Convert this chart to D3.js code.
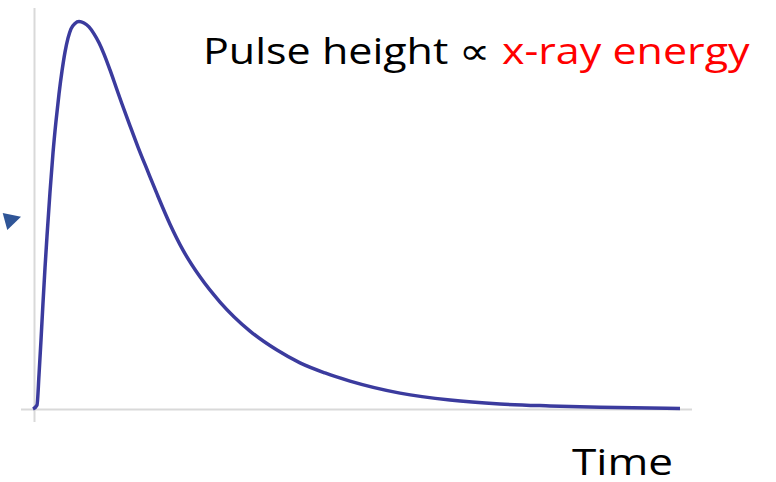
<!DOCTYPE html>
<html>
<head>
<meta charset="utf-8">
<script src="https://cdn.jsdelivr.net/npm/d3@7"></script>
<style>
  html, body { margin: 0; padding: 0; background: #fff; }
  svg { display: block; }
</style>
</head>
<body>
<svg id="chart" width="776" height="482"></svg>
<script>
// ---- data (time in arbitrary units, amplitude in % of peak) ----
const time      = [-3, 1, 3, 5, 7, 9, 11, 14, 17, 20, 23, 26, 29, 32, 35, 39, 43, 48, 53, 58, 63, 68, 74, 80, 86, 93, 102, 112, 121, 134, 147, 164, 184, 214, 241, 264, 289, 314, 364, 414, 464, 514, 564, 644];
const amplitude = [0, 1.0, 8.8, 17.8, 27.4, 36.4, 44.6, 56.0, 66.1, 74.3, 81.3, 87.2, 92.1, 95.7, 98.1, 99.5, 100, 99.6, 98.6, 96.8, 94.5, 91.6, 87.5, 83.1, 78.7, 73.8, 67.6, 61.2, 55.5, 47.7, 41.0, 34.1, 27.6, 20.1, 15.2, 11.9, 9.3, 7.2, 4.1, 2.3, 1.3, 0.8, 0.44, 0.13];
const titleParts = ["Pulse height \u221D ", "x-ray energy"];
const xLabel = "Time";

const svg = d3.select("#chart");

const x = d3.scaleLinear().domain([0, 644]).range([36, 680]);
const y = d3.scaleLinear().domain([0, 100]).range([409, 21.5]);

// axes (plain gray lines, no ticks)
svg.append("line")
  .attr("x1", 34.5).attr("x2", 34.5)
  .attr("y1", 8).attr("y2", 422)
  .attr("stroke", "#d9d9d9").attr("stroke-width", 2);
svg.append("line")
  .attr("x1", 21).attr("x2", 692)
  .attr("y1", 409.5).attr("y2", 409.5)
  .attr("stroke", "#d9d9d9").attr("stroke-width", 2);

// pulse curve
const pts = time.map((t, i) => [t, amplitude[i]]);
const line = d3.line()
  .x(d => x(d[0]))
  .y(d => y(d[1]))
  .curve(d3.curveMonotoneX);
svg.append("path")
  .datum(pts)
  .attr("d", line)
  .attr("fill", "none")
  .attr("stroke", "#3b3b9e")
  .attr("stroke-width", 3.5)
  .attr("stroke-linejoin", "round");

// small pointer triangle at left
svg.append("path")
  .attr("d", "M2.7,213 L21,216.7 L7.3,230 Z")
  .attr("fill", "#2f5597");

// helper: fit a text horizontally to a target width by scaling
function fitText(sel, x0, targetW) {
  const w = sel.node().getBBox().width;
  sel.attr("transform", `translate(${x0},0) scale(${targetW / w},1) translate(${-x0},0)`);
}

// title text
const title = svg.append("text")
  .attr("x", 203).attr("y", 64.5)
  .attr("font-family", "'Open Sans', 'Noto Sans', sans-serif")
  .attr("font-size", 36.5);
title.append("tspan").attr("fill", "#000").text(titleParts[0]);
title.append("tspan").attr("fill", "#ff0000").text(titleParts[1]);
fitText(title, 203, 547);

// x-axis label
const xl = svg.append("text")
  .attr("x", 572).attr("y", 475.5)
  .attr("font-family", "'Open Sans', 'Noto Sans', sans-serif")
  .attr("font-size", 36.5)
  .attr("fill", "#000")
  .text(xLabel);
fitText(xl, 572, 101);
</script>
</body>
</html>
